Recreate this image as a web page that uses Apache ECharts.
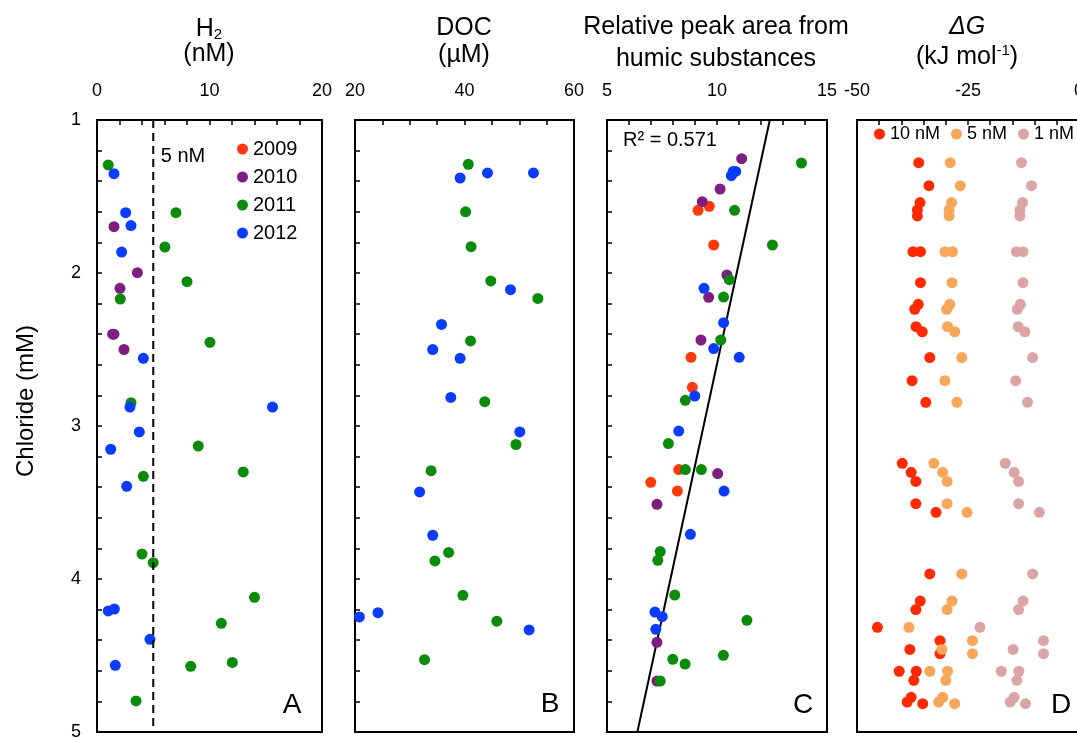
<!DOCTYPE html>
<html>
<head>
    <meta charset="UTF-8" />
    <title>chloride profiles</title>
    <script src="https://cdn.jsdelivr.net/npm/echarts@6/dist/echarts.min.js"></script>
    <style>
        html, body { margin: 0; padding: 0; background: #fff; }
        #main { width: 1077px; height: 739px; }
    </style>
</head>
<body>
    <div id="main"></div>
    <script>
        // ---- data: [value, chloride (mM)] ----
        // A: H2 (nM)
        var h2_2010 = [[1.51, 1.697], [3.59, 1.998], [2.04, 2.10], [1.39, 2.40], [1.51, 2.40], [2.4, 2.50]];
        var h2_2011 = [[1.0, 1.294], [7.02, 1.606], [6.04, 1.83], [8.0, 2.057], [2.07, 2.17], [10.04, 2.453], [3.02, 2.848],
            [9.0, 3.131], [13.0, 3.30], [4.12, 3.329], [4.0, 3.837], [5.0, 3.893], [14.0, 4.12], [11.05, 4.29],
            [8.33, 4.571], [12.03, 4.545], [3.47, 4.797]];
        var h2_2012 = [[1.51, 1.351], [2.55, 1.606], [3.02, 1.69], [2.19, 1.863], [4.12, 2.558], [2.93, 2.876], [15.6, 2.876],
            [3.76, 3.039], [1.22, 3.152], [2.64, 3.394], [1.0, 4.209], [1.54, 4.196], [4.71, 4.394], [1.63, 4.564]];
        var h2Ref = [[5, 1], [5, 5]];

        // B: DOC (uM)
        var doc_2011 = [[40.7, 1.29], [40.2, 1.60], [41.2, 1.828], [44.8, 2.052], [53.4, 2.166], [41.1, 2.444], [43.7, 2.841],
            [49.4, 3.121], [33.9, 3.292], [37.1, 3.826], [34.6, 3.882], [39.7, 4.107], [45.9, 4.276], [32.7, 4.527]];
        var doc_2012 = [[44.2, 1.346], [52.6, 1.346], [39.2, 1.379], [48.4, 2.109], [35.8, 2.336], [34.2, 2.50], [39.2, 2.558],
            [37.5, 2.813], [50.1, 3.039], [31.8, 3.431], [34.2, 3.714], [20.8, 4.248], [24.2, 4.22], [51.8, 4.333]];

        // C: relative peak area from humic substances
        var hs_2009 = [[9.65, 1.564], [9.14, 1.59], [9.85, 1.817], [8.82, 2.551], [8.88, 2.747], [8.26, 3.285], [6.99, 3.368], [8.2, 3.425]];
        var hs_2010 = [[11.12, 1.253], [10.14, 1.451], [9.33, 1.534], [10.45, 2.013], [9.62, 2.159], [9.27, 2.438], [10.03, 3.311],
            [7.27, 3.512], [7.27, 4.414], [7.27, 4.667]];
        var hs_2011 = [[13.84, 1.281], [10.80, 1.59], [12.52, 1.817], [10.56, 2.044], [10.30, 2.157], [10.17, 2.438], [8.56, 2.832],
            [7.79, 3.115], [8.56, 3.285], [9.29, 3.285], [7.42, 3.821], [7.31, 3.878], [8.08, 4.105], [11.36, 4.27],
            [10.29, 4.499], [7.99, 4.525], [8.55, 4.556], [7.42, 4.667]];
        var hs_2012 = [[10.74, 1.336], [10.85, 1.336], [10.65, 1.364], [9.41, 2.10], [10.30, 2.325], [9.85, 2.494], [11.01, 2.551],
            [8.99, 2.804], [8.26, 3.033], [10.32, 3.425], [8.79, 3.708], [7.18, 4.216], [7.51, 4.246], [7.22, 4.329]];
        var trendX = [12.40, 6.38];
        var trendY = [1, 5];
        var r2Text = 'R² = 0.571';

        // D: delta G (kJ/mol) at 10, 5, 1 nM H2
        var dCl = [1.279, 1.429, 1.54, 1.588, 1.627, 1.861, 1.861, 2.063, 2.205, 2.237, 2.351, 2.384, 2.553, 2.704, 2.845,
            3.244, 3.303, 3.362, 3.508, 3.564, 3.967, 4.144, 4.20, 4.316, 4.403, 4.46, 4.488, 4.603, 4.603, 4.662, 4.773, 4.804, 4.815];
        var dG10 = [-36.1, -33.8, -35.8, -36.4, -36.4, -37.4, -35.7, -35.7, -36.2, -37.0, -36.7, -35.3, -33.6, -37.6, -34.5,
            -39.8, -37.8, -36.75, -36.75, -32.2, -33.6, -35.75, -36.75, -45.4, -31.3, -38.1, -31.3, -40.5, -36.65, -37.2, -37.8, -38.7, -35.2];
        var dG5 = [-29.0, -26.75, -28.7, -29.25, -29.25, -30.2, -28.5, -28.6, -29.1, -29.8, -29.6, -28.0, -26.4, -30.2, -27.5,
            -32.7, -30.7, -29.7, -29.7, -25.2, -26.4, -28.6, -29.7, -38.3, -24.0, -30.9, -24.0, -33.6, -29.6, -30.0, -30.7, -31.6, -28.0];
        var dG1 = [-12.95, -10.7, -12.7, -13.3, -13.3, -14.1, -12.6, -12.6, -13.2, -13.9, -13.7, -12.2, -10.45, -14.25, -11.6,
            -16.6, -14.6, -13.6, -13.6, -8.93, -10.45, -12.6, -13.6, -22.3, -8.0, -14.85, -8.0, -17.5, -13.55, -14.0, -14.6, -15.5, -12.05];

        var years = ['2009', '2010', '2011', '2012'];
        var levels = ['10 nM', '5 nM', '1 nM'];
        var panelLetters = ['A', 'B', 'C', 'D'];

        // ---- styling ----
        var FONT = '"Liberation Sans", Arial, sans-serif';
        var yearColor = { '2009': '#FF3A0A', '2010': '#7D1F80', '2011': '#0A8C0A', '2012': '#0A3CFF' };
        var levelColor = { '10 nM': '#FF2A00', '5 nM': '#F8A65A', '1 nM': '#DCA5A5' };
        var DOT = 11;

        var myChart = echarts.init(document.getElementById('main'));

        var gridPos = [[97, 225], [355, 219], [607, 220], [857, 222]];
        var grids = gridPos.map(function (g) {
            return {
                left: g[0], top: 120, width: g[1], height: 612, show: true,
                borderColor: '#000', borderWidth: 2, outerBoundsMode: 'none', containLabel: false
            };
        });

        function xAx(i, min, max, interval, split) {
            return {
                gridIndex: i, type: 'value', position: 'top', min: min, max: max, interval: interval,
                axisLine: { show: false },
                axisTick: { show: true, inside: true, length: 5, lineStyle: { color: '#000', width: 1.5 } },
                minorTick: { show: true, splitNumber: split, length: 5, lineStyle: { color: '#000', width: 1.5 } },
                splitLine: { show: false },
                axisLabel: { color: '#000', fontSize: 18, fontFamily: FONT, margin: 20 }
            };
        }
        function yAx(i) {
            return {
                gridIndex: i, type: 'value', inverse: true, min: 1, max: 5, interval: 1,
                axisLine: { show: false },
                axisTick: { show: true, inside: true, length: 5, lineStyle: { color: '#000', width: 1.5 } },
                minorTick: { show: true, splitNumber: 5, length: 5, lineStyle: { color: '#000', width: 1.5 } },
                splitLine: { show: false },
                axisLabel: { show: i === 0, color: '#000', fontSize: 18, fontFamily: FONT, margin: 16 }
            };
        }

        function dots(name, axis, data, color) {
            return {
                type: 'scatter', name: name, xAxisIndex: axis, yAxisIndex: axis, data: data,
                symbolSize: DOT, itemStyle: { color: color, opacity: 1 }, clip: false
            };
        }

        var series = [
            {
                type: 'line', name: 'ref', xAxisIndex: 0, yAxisIndex: 0, data: h2Ref, symbol: 'none',
                lineStyle: { color: '#000', width: 2, type: [8, 5] }
            },
            dots('2010', 0, h2_2010, yearColor['2010']),
            dots('2011', 0, h2_2011, yearColor['2011']),
            dots('2012', 0, h2_2012, yearColor['2012']),
            dots('2011', 1, doc_2011, yearColor['2011']),
            dots('2012', 1, doc_2012, yearColor['2012']),
            dots('2009', 2, hs_2009, yearColor['2009']),
            dots('2010', 2, hs_2010, yearColor['2010']),
            dots('2011', 2, hs_2011, yearColor['2011']),
            dots('2012', 2, hs_2012, yearColor['2012']),
            {
                type: 'line', name: 'trend', xAxisIndex: 2, yAxisIndex: 2, symbol: 'none',
                data: trendX.map(function (x, k) { return [x, trendY[k]]; }),
                lineStyle: { color: '#000', width: 2 }, z: 1
            },
            dots('10 nM', 3, dG10.map(function (v, k) { return [v, dCl[k]]; }), levelColor['10 nM']),
            dots('5 nM', 3, dG5.map(function (v, k) { return [v, dCl[k]]; }), levelColor['5 nM']),
            dots('1 nM', 3, dG1.map(function (v, k) { return [v, dCl[k]]; }), levelColor['1 nM'])
        ];

        function txt(x, y, text, size, extra) {
            var st = { text: text, x: x, y: y, textAlign: 'center', textVerticalAlign: 'middle', fill: '#000', font: size + 'px ' + FONT };
            if (extra) { for (var k in extra) st[k] = extra[k]; }
            return { type: 'text', silent: true, style: st };
        }

        var letterPos = [[292, 705], [550, 704], [803, 705], [1061, 705]];
        var graphics = [
            txt(209, 28, '{t|H}{s|2}', 25, { rich: { t: { fontSize: 25, fontFamily: FONT, lineHeight: 28, verticalAlign: 'bottom' }, s: { fontSize: 15, fontFamily: FONT, lineHeight: 22, verticalAlign: 'bottom' } } }),
            txt(209, 54, '(nM)', 25),
            txt(464, 28, 'DOC', 25),
            txt(464, 55, '(µM)', 25),
            txt(716, 27, 'Relative peak area from', 25),
            txt(716, 59, 'humic substances', 25),
            txt(967, 27, 'ΔG', 25, { font: 'italic 25px ' + FONT }),
            txt(967, 57, '{t|(kJ mol}{p|-1}{t|)}', 25, { rich: { t: { fontSize: 25, fontFamily: FONT, lineHeight: 28 }, p: { fontSize: 15, fontFamily: FONT, lineHeight: 28, verticalAlign: 'top', padding: [0, 0, 8, 0] } } }),
            txt(183, 156, '5 nM', 20),
            txt(670, 140, r2Text, 20),
            {
                type: 'text', silent: true, x: 26, y: 401, rotation: Math.PI / 2,
                style: { text: 'Chloride (mM)', textAlign: 'center', textVerticalAlign: 'middle', fill: '#000', font: '24px ' + FONT }
            }
        ];
        letterPos.forEach(function (p, k) { graphics.push(txt(p[0], p[1], panelLetters[k], 28)); });

        var option = {
            animation: false,
            grid: grids,
            xAxis: [xAx(0, 0, 20, 10, 5), xAx(1, 20, 60, 20, 4), xAx(2, 5, 15, 5, 5), xAx(3, -50, 0, 25, 5)],
            yAxis: [yAx(0), yAx(1), yAx(2), yAx(3)],
            legend: [
                {
                    data: years, orient: 'vertical', left: 237, top: 139, padding: 0,
                    itemWidth: DOT, itemHeight: DOT, itemGap: 8, icon: 'circle', selectedMode: false,
                    textStyle: { color: '#000', fontSize: 20, fontFamily: FONT }
                },
                {
                    data: levels, orient: 'horizontal', left: 874, top: 125, padding: 0,
                    itemWidth: DOT, itemHeight: DOT, itemGap: 11, icon: 'circle', selectedMode: false,
                    textStyle: { color: '#000', fontSize: 18, fontFamily: FONT }
                }
            ],
            graphic: graphics,
            series: series
        };

        myChart.setOption(option);
    </script>
</body>
</html>
